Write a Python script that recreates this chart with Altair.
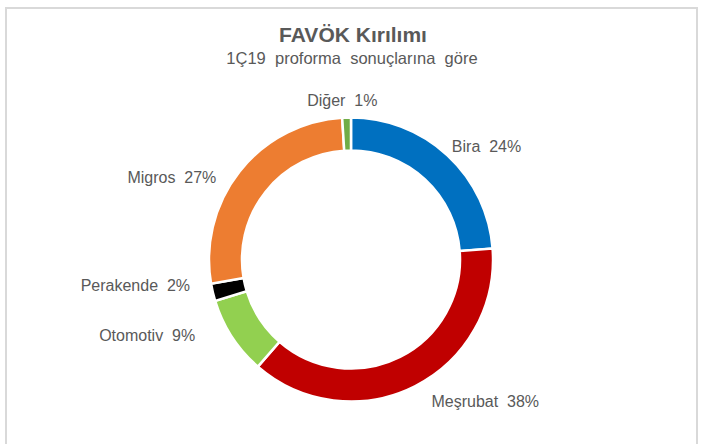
import altair as alt
import pandas as pd

categories = ["Bira", "Meşrubat", "Otomotiv", "Perakende", "Migros", "Diğer"]
values = [24, 38, 9, 2, 27, 1]
labels = ["Bira\u00a0 24%", "Meşrubat\u00a0 38%", "Otomotiv\u00a0 9%", "Perakende\u00a0 2%",
          "Migros\u00a0 27%", "Diğer\u00a0 1%"]
colors = ["#0070C0", "#C00000", "#92D050", "#000000", "#ED7D31", "#70AD47"]

df = pd.DataFrame({"cat": categories, "value": values, "label": labels,
                   "order": list(range(len(categories)))})

W, H = 704, 444
CX, CY = 351, 259.5
FONT = "Liberation Sans"
GREY = "#595959"

base = alt.Chart(df).encode(
    theta=alt.Theta("value:Q", stack=True),
    order=alt.Order("order:Q"),
    x=alt.value(CX),
    y=alt.value(CY),
)

arcs = base.mark_arc(outerRadius=142, innerRadius=109, stroke="white", strokeWidth=2.5).encode(
    color=alt.Color("cat:N", scale=alt.Scale(domain=categories, range=colors), legend=None)
)

# label placement: (category, align, dx, dy)
placements = [
    ("Bira", "left", -1, -2),
    ("Meşrubat", "left", 13, 8.5),
    ("Otomotiv", "right", -30, -5),
    ("Perakende", "right", -15, -8),
    ("Migros", "right", -17, 11.5),
    ("Diğer", "center", -4, -9),
]
text_layers = []
for cat, align, dx, dy in placements:
    t = base.mark_text(radius=150, align=align, baseline="middle", dx=dx, dy=dy,
                       font=FONT, fontSize=16, color=GREY).encode(
        text=alt.condition(alt.datum.cat == cat, "label:N", alt.value(""))
    )
    text_layers.append(t)

frame = alt.Chart(pd.DataFrame({"a": [0]})).mark_rect(
    fill=None, stroke="#D9D9D9", strokeWidth=2
).encode(x=alt.value(6), x2=alt.value(697), y=alt.value(8), y2=alt.value(470))

title = alt.Chart(pd.DataFrame({"t": ["FAVÖK Kırılımı"]})).mark_text(
    font=FONT, fontSize=21, fontWeight="bold", color=GREY, align="center", baseline="middle"
).encode(text="t:N", x=alt.value(353), y=alt.value(36))

subtitle = alt.Chart(pd.DataFrame({"t": ["1Ç19\u00a0 proforma\u00a0 sonuçlarına\u00a0 göre"]})).mark_text(
    font=FONT, fontSize=16.5, color=GREY, align="center", baseline="middle"
).encode(text="t:N", x=alt.value(352), y=alt.value(59))

chart = alt.layer(frame, arcs, *text_layers, title, subtitle).properties(
    width=W, height=H, autosize=alt.AutoSizeParams(type="none"), padding=0
).configure_view(stroke=None)

chart.save("out.html", embed_options={"renderer": "svg", "actions": False})
